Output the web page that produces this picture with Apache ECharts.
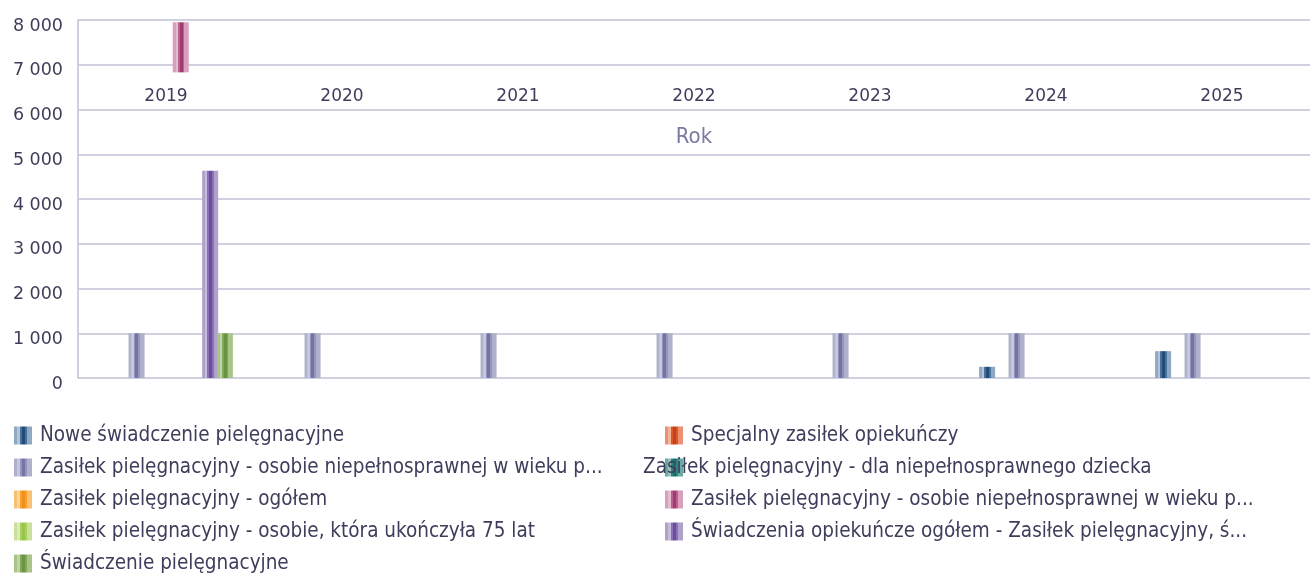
<!DOCTYPE html>
<html><head><meta charset="utf-8">
<script src="https://cdn.jsdelivr.net/npm/echarts@6/dist/echarts.min.js"></script>
<style>html,body{margin:0;padding:0;background:#fff}#c{width:1310px;height:576px}</style>
</head><body><div id="c"></div>
<script>
// ---- data ----
const years = ['2019', '2020', '2021', '2022', '2023', '2024', '2025'];
const seriesNames = [
  'Nowe świadczenie pielęgnacyjne',
  'Specjalny zasiłek opiekuńczy',
  'Zasiłek pielęgnacyjny - osobie niepełnosprawnej w wieku powyżej 16 roku życia, o umiarkowanym stopniu niepełnosprawności',
  'Zasiłek pielęgnacyjny - dla niepełnosprawnego dziecka',
  'Zasiłek pielęgnacyjny - ogółem',
  'Zasiłek pielęgnacyjny - osobie niepełnosprawnej w wieku powyżej 16 roku życia, o znacznym stopniu niepełnosprawności',
  'Zasiłek pielęgnacyjny - osobie, która ukończyła 75 lat',
  'Świadczenia opiekuńcze ogółem - Zasiłek pielęgnacyjny, świadczenie pielęgnacyjne, specjalny zasiłek opiekuńczy',
  'Świadczenie pielęgnacyjne'
];
const legendLabels = [
  'Nowe świadczenie pielęgnacyjne',
  'Specjalny zasiłek opiekuńczy',
  'Zasiłek pielęgnacyjny - osobie niepełnosprawnej w wieku p...',
  'Zasiłek pielęgnacyjny - dla niepełnosprawnego dziecka',
  'Zasiłek pielęgnacyjny - ogółem',
  'Zasiłek pielęgnacyjny - osobie niepełnosprawnej w wieku p...',
  'Zasiłek pielęgnacyjny - osobie, która ukończyła 75 lat',
  'Świadczenia opiekuńcze ogółem - Zasiłek pielęgnacyjny, ś...',
  'Świadczenie pielęgnacyjne'
];
const noweSwiadczenie   = [null, null, null, null, null, 250, 600];
const specjalnyZasilek  = [null, null, null, null, null, null, null];
const zpOsobieUmiark    = [1000, 1000, 1000, 1000, 1000, 1000, 1000];
const zpDziecka         = [null, null, null, null, null, null, null];
const zpOgolem          = [null, null, null, null, null, null, null];
const zpOsobieZnacznyLow  = [6830, null, null, null, null, null, null];
const zpOsobieZnacznyHigh = [7950, null, null, null, null, null, null];
const zp75lat           = [null, null, null, null, null, null, null];
const opiekunczeOgolem  = [4630, null, null, null, null, null, null];
const swiadczeniePiel   = [1000, null, null, null, null, null, null];
const yMin = 0, yMax = 8000, yStep = 1000;

// ---- styles ----
const palettes = [
  ['#8fa8c4', '#b4c5d8', '#4a6f98', '#1f4c78'],
  ['#eb9070', '#f4b49a', '#d8582c', '#c8401a'],
  ['#b0b0cc', '#c6c6dd', '#9494bc', '#7474a8'],
  ['#6aa8a4', '#9ac4c0', '#2e827c', '#1a6e68'],
  ['#f8c070', '#fbd49a', '#f5a030', '#f09018'],
  ['#d8a0bc', '#e6bcd0', '#bc6090', '#a03a70'],
  ['#c8e09a', '#d8ecb8', '#a8d060', '#98c448'],
  ['#b0a0cc', '#c8bcdc', '#8a70b4', '#6a4e9c'],
  ['#a8c488', '#c0d4a8', '#80a858', '#6a9444']
];
function stripe(p) {
  const [l, ll, m, d] = p;
  return new echarts.graphic.LinearGradient(0, 0, 1, 0, [
    {offset: 0, color: l}, {offset: 0.18, color: l},
    {offset: 0.18, color: ll}, {offset: 0.33, color: ll},
    {offset: 0.33, color: m}, {offset: 0.43, color: m},
    {offset: 0.43, color: d}, {offset: 0.62, color: d},
    {offset: 0.62, color: m}, {offset: 0.72, color: m},
    {offset: 0.72, color: l}, {offset: 1, color: l}
  ]);
}
const textColor = '#3e3e5c';
const lineColor = '#c0c0d6';
const legendFont = '"DejaVu Sans Condensed", "DejaVu Sans", sans-serif';
const axisFont = '"DejaVu Sans", sans-serif';

const values = [noweSwiadczenie, specjalnyZasilek, zpOsobieUmiark, zpDziecka, zpOgolem,
  zpOsobieZnacznyHigh, zp75lat, opiekunczeOgolem, swiadczeniePiel];

const series = [];
seriesNames.forEach((name, i) => {
  if (i === 5) {
    series.push({
      name: '_base', type: 'bar', stack: 'znaczny', silent: true,
      barWidth: 16, barGap: '-8%',
      itemStyle: {color: 'rgba(0,0,0,0)'},
      data: zpOsobieZnacznyLow
    });
    series.push({
      name, type: 'bar', stack: 'znaczny', barWidth: 16, barGap: '-8%',
      itemStyle: {color: stripe(palettes[i])},
      data: zpOsobieZnacznyHigh.map((v, k) => v == null ? null : v - zpOsobieZnacznyLow[k])
    });
  } else {
    series.push({
      name, type: 'bar', barWidth: 16, barGap: '-8%',
      itemStyle: {color: stripe(palettes[i])},
      data: values[i]
    });
  }
});

const chart = echarts.init(document.getElementById('c'));
const legendBase = {
  orient: 'vertical', icon: 'rect', itemWidth: 18, itemHeight: 18, itemGap: 11,
  top: 425, height: 200, padding: 0,
  textStyle: {color: textColor, fontSize: 20.5, fontFamily: legendFont, padding: [0, 0, 0, 3]},
  formatter: n => legendLabels[seriesNames.indexOf(n)]
};
chart.setOption({
  animation: false,
  grid: {left: 78, top: 20, width: 1246, height: 358, containLabel: false},
  legend: [
    Object.assign({}, legendBase, {left: 14, data: [0, 2, 4, 6, 8].map(i => seriesNames[i])}),
    Object.assign({}, legendBase, {left: 643, data: [1, 3, 5, 7].map(i => (
      i === 3 ? {name: seriesNames[i], textStyle: {padding: [0, 0, 0, -45]}} : seriesNames[i]
    ))})
  ],
  xAxis: {
    type: 'category', position: 'top', data: years,
    axisLine: {show: false}, axisTick: {show: false},
    axisLabel: {inside: true, margin: 68, fontSize: 17, color: textColor, fontFamily: axisFont},
    name: 'Rok', nameLocation: 'middle', nameGap: -128, nameMoveOverlap: false,
    nameTextStyle: {color: '#7a7aa2', fontSize: 22, fontFamily: legendFont}
  },
  yAxis: {
    type: 'value', min: yMin, max: yMax, interval: yStep,
    axisLine: {show: true, lineStyle: {color: lineColor, width: 1.5}},
    axisTick: {show: false},
    splitLine: {lineStyle: {color: lineColor, width: 1.5}},
    axisLabel: {
      margin: 15, fontSize: 17.5, color: textColor, fontFamily: axisFont,
      verticalAlign: 'top', lineHeight: 12,
      formatter: v => String(v).replace(/\B(?=(\d{3})+(?!\d))/g, ' ')
    }
  },
  series
});
</script>
</body></html>
